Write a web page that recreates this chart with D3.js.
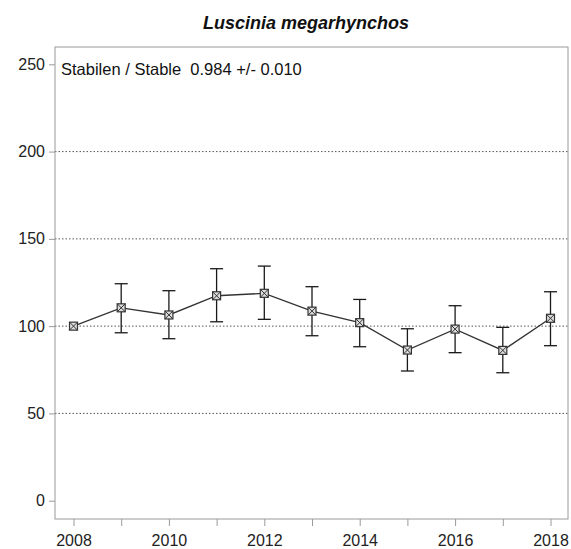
<!DOCTYPE html>
<html>
<head>
<meta charset="utf-8">
<script src="https://cdn.jsdelivr.net/npm/d3@7"></script>
<style>
html,body{margin:0;padding:0;background:#fff;}
svg{display:block;font-family:"Liberation Sans",Arial,sans-serif;}
</style>
</head>
<body>
<svg id="chart" width="571" height="549"></svg>
<script>
const title = "Luscinia megarhynchos";
const trendLabel = "Stabilen / Stable  0.984 +/- 0.010";
const years = [2008, 2009, 2010, 2011, 2012, 2013, 2014, 2015, 2016, 2017, 2018];
const index = [100, 110.5, 106.4, 117.4, 118.8, 108.6, 102.0, 86.3, 98.3, 86.1, 104.5];
const upper = [null, 124.3, 120.3, 132.9, 134.4, 122.6, 115.3, 98.5, 111.7, 99.3, 119.7];
const lower = [null, 96.2, 92.8, 102.5, 103.9, 94.5, 88.2, 74.3, 84.8, 73.3, 88.8];
const yTicks = [0, 50, 100, 150, 200, 250];
const gridValues = [50, 100, 150, 200];
const xLabelYears = [2008, 2010, 2012, 2014, 2016, 2018];

const svg = d3.select("#chart");
const box = {left: 55, top: 47, right: 568, bottom: 519};

const x = d3.scaleLinear().domain([2008, 2018]).range([73.5, 550.5]);
const y = d3.scaleLinear().domain([0, 250]).range([500.7, 64.3]);

// title
svg.append("text")
  .attr("x", 306).attr("y", 29)
  .attr("text-anchor", "middle")
  .attr("font-size", "18px").attr("font-weight", "bold").attr("font-style", "italic")
  .attr("fill", "#111")
  .text(title);

// grid lines
svg.append("g").selectAll("line").data(gridValues).join("line")
  .attr("x1", box.left).attr("x2", box.right)
  .attr("y1", d => y(d)).attr("y2", d => y(d))
  .attr("stroke", "#555").attr("stroke-width", 1)
  .attr("stroke-dasharray", "1.5,2");

// box
svg.append("rect")
  .attr("x", box.left).attr("y", box.top)
  .attr("width", box.right - box.left).attr("height", box.bottom - box.top)
  .attr("fill", "none").attr("stroke", "#9a9a9a").attr("stroke-width", 1);

// y axis
const yAxis = d3.axisLeft(y).tickValues(yTicks).tickSize(6).tickPadding(4).tickFormat(d3.format("d"));
const gy = svg.append("g").attr("transform", `translate(${box.left},0)`).call(yAxis);
gy.select(".domain").remove();
gy.selectAll(".tick line").attr("stroke", "#9a9a9a");
gy.selectAll(".tick text").attr("font-size", "16px").attr("fill", "#222")
  .attr("font-family", "Liberation Sans, Arial, sans-serif");

// x axis
const xAxis = d3.axisBottom(x).tickValues(years).tickSize(7).tickPadding(9)
  .tickFormat(d => xLabelYears.includes(d) ? String(d) : "");
const gx = svg.append("g").attr("transform", `translate(0,${box.bottom})`).call(xAxis);
gx.select(".domain").remove();
gx.selectAll(".tick line").attr("stroke", "#9a9a9a");
gx.selectAll(".tick text").attr("font-size", "16px").attr("fill", "#222")
  .attr("font-family", "Liberation Sans, Arial, sans-serif");

// trend text
svg.append("text")
  .attr("x", 61).attr("y", 74.5)
  .attr("font-size", "16.5px").attr("fill", "#111")
  .attr("xml:space", "preserve")
  .style("white-space", "pre")
  .text(trendLabel);

// error bars
const data = years.map((yr, i) => ({yr, v: index[i], hi: upper[i], lo: lower[i]}));
const eb = svg.append("g").attr("stroke", "#1a1a1a").attr("stroke-width", 1.3).attr("fill", "none");
const withErr = data.filter(d => d.hi !== null);
eb.selectAll(".v").data(withErr).join("line")
  .attr("x1", d => x(d.yr)).attr("x2", d => x(d.yr))
  .attr("y1", d => y(d.hi)).attr("y2", d => y(d.lo));
eb.selectAll(".t").data(withErr).join("line")
  .attr("x1", d => x(d.yr) - 6.5).attr("x2", d => x(d.yr) + 6.5)
  .attr("y1", d => y(d.hi)).attr("y2", d => y(d.hi));
eb.selectAll(".b").data(withErr).join("line")
  .attr("x1", d => x(d.yr) - 6.5).attr("x2", d => x(d.yr) + 6.5)
  .attr("y1", d => y(d.lo)).attr("y2", d => y(d.lo));

// line
const line = d3.line().x(d => x(d.yr)).y(d => y(d.v));
svg.append("path").datum(data).attr("d", line)
  .attr("fill", "none").attr("stroke", "#333").attr("stroke-width", 1.3);

// markers: square with X
const s = 4;
const mk = svg.append("g").selectAll("g").data(data).join("g")
  .attr("transform", d => `translate(${x(d.yr)},${y(d.v)})`);
mk.append("rect").attr("x", -s).attr("y", -s).attr("width", 2 * s).attr("height", 2 * s)
  .attr("fill", "#ddd").attr("stroke", "#333").attr("stroke-width", 1.2);
mk.append("path").attr("d", `M${-s},${-s}L${s},${s}M${-s},${s}L${s},${-s}`)
  .attr("stroke", "#333").attr("stroke-width", 1);
</script>
</body>
</html>
